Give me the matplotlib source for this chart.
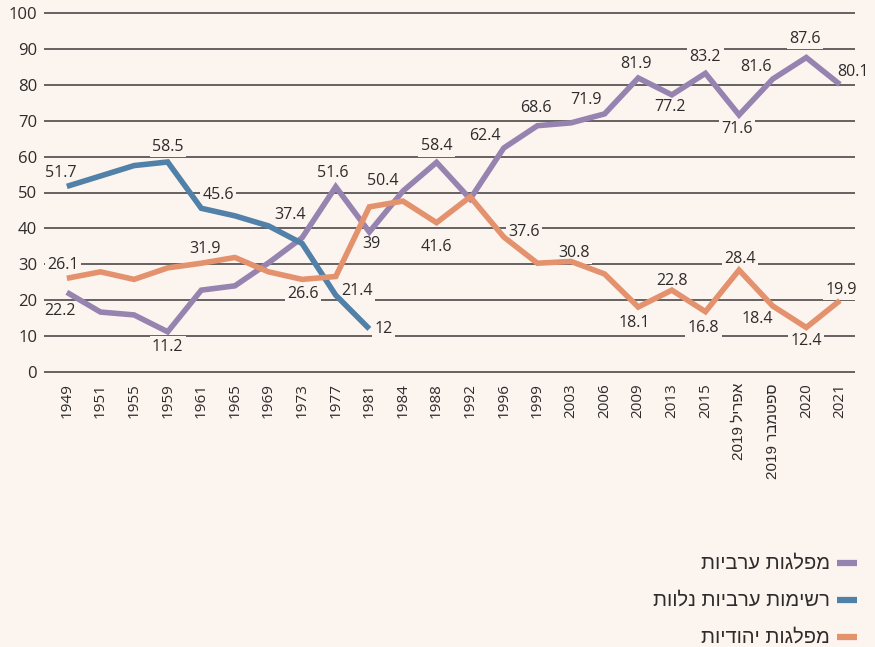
import matplotlib
matplotlib.use("Agg")
import matplotlib.pyplot as plt
from matplotlib.lines import Line2D

plt.rcParams["font.family"] = ["Open Sans", "DejaVu Sans"]

BG = "#fbf4ef"
GRID = "#3c3a3a"
TEXT = "#2e2b2b"
PURPLE = "#9783b0"
BLUE = "#5180a8"
ORANGE = "#e4916d"
HEB_FONT = ["Liberation Sans", "DejaVu Sans"]

years = ["1949", "1951", "1955", "1959", "1961", "1965", "1969", "1973", "1977", "1981",
         "1984", "1988", "1992", "1996", "1999", "2003", "2006", "2009", "2013", "2015",
         "אפריל 2019", "ספטמבר 2019", "2020", "2021"]

arab_parties = [22.2, 16.7, 15.9, 11.2, 22.8, 24.0, 30.4, 37.4, 51.6, 39,
                50.4, 58.4, 48.2, 62.4, 68.6, 69.4, 71.9, 81.9, 77.2, 83.2,
                71.6, 81.6, 87.6, 80.1]
affiliated_lists = [51.7, 54.6, 57.5, 58.5, 45.6, 43.5, 40.7, 35.8, 21.4, 12]
jewish_parties = [26.1, 27.9, 25.8, 29.0, 30.3, 31.9, 27.9, 25.8, 26.6, 46.0,
                  47.6, 41.6, 48.8, 37.6, 30.3, 30.8, 27.3, 18.1, 22.8, 16.8,
                  28.4, 18.4, 12.4, 19.9]

series_names = ["מפלגות ערביות", "רשימות ערביות נלוות", "מפלגות יהודיות"]

# value labels: (index, dx, dy) offsets in pixels from the point
arab_labels = [(0, -7, -19), (3, 0, -15), (7, -12, 23), (8, -3, 14), (9, 2, -12),
               (10, -20, 10), (11, 0, 16), (13, -19, 12), (14, -2, 18), (16, -19, 14),
               (17, -2, 14), (18, -2, -12), (19, 0, 16), (20, -2, -14), (21, -17, 12),
               (22, -1, 19), (23, 13, 12)]
affiliated_labels = [(0, -6, 13), (3, 0, 15), (4, 17, 13), (8, 21, 4), (9, 14, 0)]
jewish_labels = [(0, -4, 13), (5, -30, 8), (8, -33, -17), (11, 0, -24), (13, 20, 5),
                 (15, 3, 8), (17, -4, -16), (18, 0, 9), (19, -2, -16), (20, 1, 11),
                 (21, -15, -13), (22, 0, -14), (23, 1, 11)]


def visual(s):
    # matplotlib has no bidi support: lay out RTL words in display order
    words = s.split(" ")[::-1]
    return " ".join(w if w.isdigit() else w[::-1] for w in words)


def fmt(v):
    return str(int(v)) if float(v).is_integer() else f"{v:.1f}"


fig = plt.figure(figsize=(8.75, 6.47), dpi=100, facecolor=BG)
ax = fig.add_axes([44 / 875, 1 - 372 / 647, 811 / 875, 359 / 647])
ax.set_facecolor(BG)

x = list(range(len(years)))
ax.set_xlim(-0.68, 23.45)
ax.set_ylim(0, 100)

yticks = list(range(0, 101, 10))
ax.hlines(yticks, -0.68, 23.45, color=GRID, lw=1.1, zorder=0.5, clip_on=False)

for s in ax.spines.values():
    s.set_visible(False)
ax.set_yticks(yticks)
ax.set_xticks(x)
ax.set_xticklabels([visual(y) for y in years], rotation=90, va="top", ha="center")
for lbl, y in zip(ax.get_xticklabels(), years):
    if not y.isdigit():
        lbl.set_family(HEB_FONT)
        lbl.set_fontsize(12.5)
ax.tick_params(axis="y", length=0, pad=5, labelsize=12, labelcolor=TEXT)
ax.tick_params(axis="x", length=0, pad=8, labelsize=11, labelcolor=TEXT)

for vals, color, labels in [(arab_parties, PURPLE, arab_labels),
                            (affiliated_lists, BLUE, affiliated_labels),
                            (jewish_parties, ORANGE, jewish_labels)]:
    ax.plot(x[:len(vals)], vals, color=color, lw=4, zorder=3,
            solid_joinstyle="miter", solid_capstyle="butt")
    for i, dx, dy in labels:
        ax.annotate(fmt(vals[i]), (i, vals[i]), xytext=(dx, dy), textcoords="offset pixels",
                    ha="center", va="center", fontsize=11.5, color=TEXT, zorder=2,
                    bbox=dict(boxstyle="square,pad=0.15", fc=BG, ec="none"))

# legend: swatch on the right of right-aligned Hebrew text
for k, (name, color) in enumerate(zip(series_names, [PURPLE, BLUE, ORANGE])):
    yf = 1 - (563 + 37 * k) / 647
    fig.add_artist(Line2D([837 / 875, 857 / 875], [yf, yf], color=color, lw=4.5,
                          solid_capstyle="butt", transform=fig.transFigure))
    fig.text(830 / 875, yf, visual(name), ha="right", va="center", fontsize=14.5,
             color=TEXT, family=HEB_FONT)

fig.savefig("out.png", dpi=100, facecolor=BG)
